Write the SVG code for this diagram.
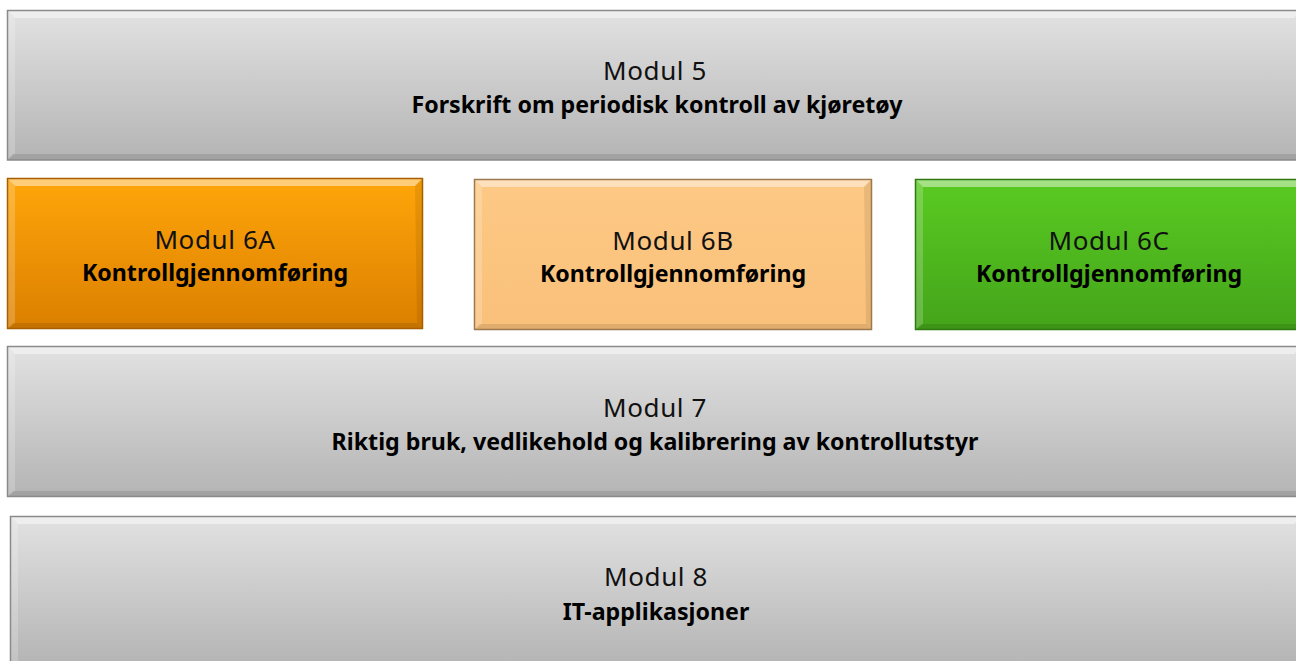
<svg xmlns="http://www.w3.org/2000/svg" width="1296" height="661" viewBox="0 0 1296 661">
<defs>
<linearGradient id="gGray" x1="0" y1="0" x2="0" y2="1"><stop offset="0" stop-color="#e2e2e2"/><stop offset="1" stop-color="#b4b4b4"/></linearGradient>
<linearGradient id="gOrange" x1="0" y1="0" x2="0" y2="1"><stop offset="0" stop-color="#ffa60a"/><stop offset="1" stop-color="#db7f00"/></linearGradient>
<linearGradient id="gPeach" x1="0" y1="0" x2="0" y2="1"><stop offset="0" stop-color="#fdc985"/><stop offset="1" stop-color="#f9c07a"/></linearGradient>
<linearGradient id="gGreen" x1="0" y1="0" x2="0" y2="1"><stop offset="0" stop-color="#5acb22"/><stop offset="1" stop-color="#44a41a"/></linearGradient>
</defs>
<style>
.t1{font-family:"Noto Sans","DejaVu Sans",sans-serif;font-size:26px;letter-spacing:0.6px;fill:#111;text-anchor:middle}
.t2{font-family:"Noto Sans","DejaVu Sans",sans-serif;font-size:23.2px;font-weight:bold;fill:#000;text-anchor:middle}
.hl{fill:#fff;opacity:0.45}
.hl2{fill:#fff;opacity:0.2}
.sh{fill:#000;opacity:0.1}
.sh2{fill:#000;opacity:0.08}
.edge{fill:none;stroke-width:1.5}
</style>
<rect width="1296" height="661" fill="#fff"/>
<g id="m5">
<rect x="7" y="10" width="1295" height="150" fill="url(#gGray)"/>
<polygon class="hl" points="7,10 1302,10 1294,18 15,18"/>
<polygon class="hl2" points="7,10 15,18 15,154 7,160"/>
<polygon class="sh" points="7,160 13,154 1296,154 1302,160"/>
<rect class="edge" x="7.5" y="10.5" width="1295" height="149.5" stroke="#8a8a8a"/>
<text class="t1" x="655" y="80">Modul 5</text>
<text class="t2" x="657" y="113">Forskrift om periodisk kontroll av kjøretøy</text>
</g>
<g id="m6a">
<rect x="7" y="178" width="416" height="151" fill="url(#gOrange)"/>
<polygon class="hl" points="7,178 423,178 415,186 15,186"/>
<polygon class="hl2" points="7,178 15,186 15,323 7,329"/>
<polygon class="sh" points="7,329 13,323 417,323 423,329"/>
<polygon class="sh2" points="423,178 415,186 417,323 423,329"/>
<rect class="edge" x="7.5" y="178.5" width="415" height="150" stroke="#a85e00"/>
<text class="t1" x="215" y="249">Modul 6A</text>
<text class="t2" x="215" y="281">Kontrollgjennomføring</text>
</g>
<g id="m6b">
<rect x="474" y="179" width="398" height="151" fill="url(#gPeach)"/>
<polygon class="hl" points="474,179 872,179 864,187 482,187"/>
<polygon class="hl2" points="474,179 482,187 482,324 474,330"/>
<polygon class="sh" points="474,330 480,324 866,324 872,330"/>
<polygon class="sh2" points="872,179 864,187 866,324 872,330"/>
<rect class="edge" x="474.5" y="179.5" width="397" height="150" stroke="#9c7a4e"/>
<text class="t1" x="673" y="250">Modul 6B</text>
<text class="t2" x="673" y="282">Kontrollgjennomføring</text>
</g>
<g id="m6c">
<rect x="915" y="179" width="390" height="151" fill="url(#gGreen)"/>
<polygon class="hl" points="915,179 1305,179 1297,187 923,187"/>
<polygon class="hl2" points="915,179 923,187 923,324 915,330"/>
<polygon class="sh" points="915,330 921,324 1299,324 1305,330"/>
<rect class="edge" x="915.5" y="179.5" width="390" height="150" stroke="#2f7a10"/>
<text class="t1" x="1109" y="250">Modul 6C</text>
<text class="t2" x="1109" y="282">Kontrollgjennomføring</text>
</g>
<g id="m7">
<rect x="7" y="346" width="1295" height="151" fill="url(#gGray)"/>
<polygon class="hl" points="7,346 1302,346 1294,354 15,354"/>
<polygon class="hl2" points="7,346 15,354 15,491 7,497"/>
<polygon class="sh" points="7,497 13,491 1296,491 1302,497"/>
<rect class="edge" x="7.5" y="346.5" width="1295" height="150" stroke="#8a8a8a"/>
<text class="t1" x="655" y="417">Modul 7</text>
<text class="t2" x="655" y="450">Riktig bruk, vedlikehold og kalibrering av kontrollutstyr</text>
</g>
<g id="m8">
<rect x="10" y="516" width="1292" height="150" fill="url(#gGray)"/>
<polygon class="hl" points="10,516 1302,516 1294,524 18,524"/>
<polygon class="hl2" points="10,516 18,524 18,666 10,666"/>
<rect class="edge" x="10.5" y="516.5" width="1292" height="150" stroke="#8a8a8a"/>
<text class="t1" x="656" y="586">Modul 8</text>
<text class="t2" x="656" y="620">IT-applikasjoner</text>
</g>
<g id="connectors"></g>
</svg>
